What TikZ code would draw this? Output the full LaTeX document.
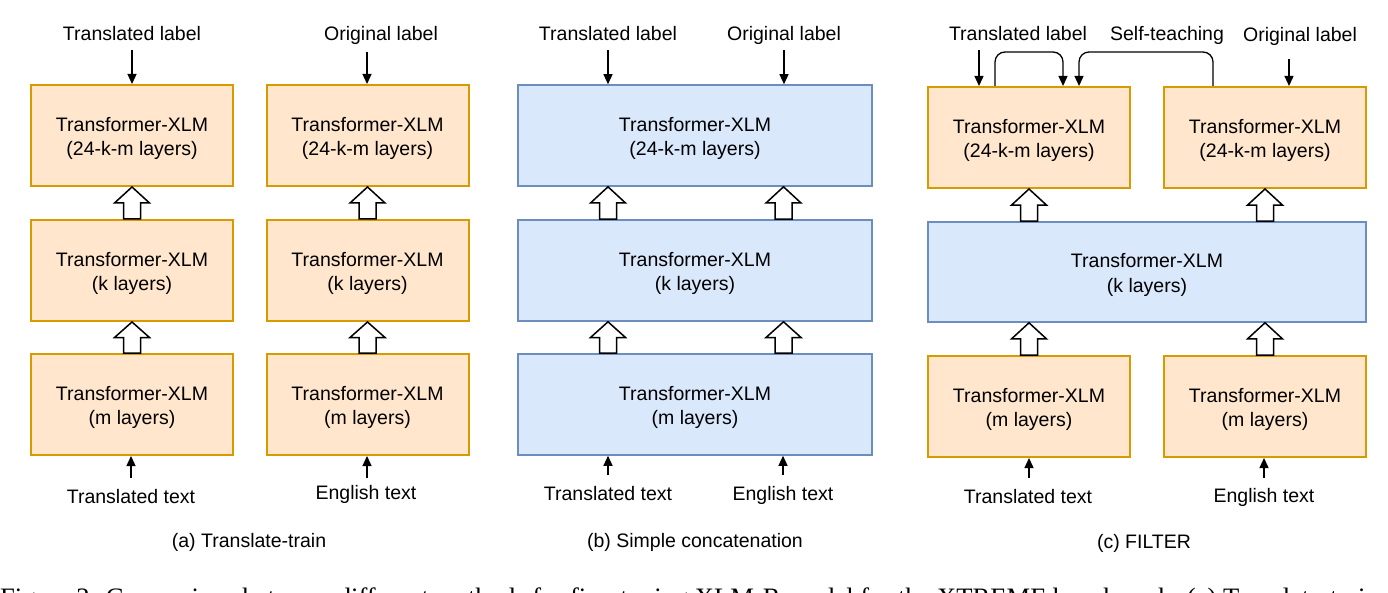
\documentclass[tikz,border=0pt]{standalone}
\usepackage{fontspec}
\setmainfont{Liberation Sans}
\newfontfamily\capfont{Liberation Serif}
\usetikzlibrary{calc,arrows.meta}
\definecolor{ofill}{HTML}{FFE6CC}
\definecolor{odraw}{HTML}{D79B00}
\definecolor{bfill}{HTML}{DAE8FC}
\definecolor{bdraw}{HTML}{6C8EBF}
\newcommand\twolines[2]{\rule{0pt}{20.5pt}#1\\#2}
\newcommand\hollowup[2]{%
  \coordinate (hb) at (#1);
  \coordinate (ht) at (#2);
  \draw[hollow] ($(hb)+(-8.5,0)$) -- ($(hb)!0.5!(ht)+(-8.5,0)$)
    -- ($(hb)!0.5!(ht)+(-17.5,0)$) -- (ht)
    -- ($(hb)!0.5!(ht)+(17.5,0)$) -- ($(hb)!0.5!(ht)+(8.5,0)$)
    -- ($(hb)+(8.5,0)$) -- cycle;}
\begin{document}
\begin{tikzpicture}[x=1pt,y=-1pt,
  txt/.style={font=\fontsize{19.5}{24.5}\selectfont, inner sep=0pt, align=center},
  lbl/.style={txt, anchor=base},
  obox/.style={txt, draw=odraw, fill=ofill, line width=2pt, minimum width=202pt, minimum height=101pt},
  bluebox/.style={txt, draw=bdraw, fill=bfill, line width=1.6pt, minimum width=354pt, minimum height=101pt},
  arr/.style={line width=1.3pt, -{Triangle[length=10pt,width=9pt]}},
  hollow/.style={draw=black, fill=white, line width=1.5pt, line join=miter},
  capt/.style={txt, anchor=base}]
\useasboundingbox (0,0) rectangle (1388,593);
\fill[white] (0,0) rectangle (1388,593);

% ---------- panel (a)
\node[obox] (a1) at (132,135.5) {\twolines{Transformer-XLM}{(24-k-m layers)}};
\node[obox] (a2) at (132,270.5) {\twolines{Transformer-XLM}{(k layers)}};
\node[obox] (a3) at (132,404.5) {\twolines{Transformer-XLM}{(m layers)}};
\node[obox] (a4) at (367.5,135.5) {\twolines{Transformer-XLM}{(24-k-m layers)}};
\node[obox] (a5) at (367.5,270.5) {\twolines{Transformer-XLM}{(k layers)}};
\node[obox] (a6) at (367.5,404.5) {\twolines{Transformer-XLM}{(m layers)}};
\node[lbl] (la1) at (132,41) {Translated label};
\node[lbl] (la2) at (381,41) {Original label};
\node[lbl] (ta1) at (131,503) {Translated text};
\node[lbl] (ta2) at (366,499) {English text};
\node[capt] (capa) at (249,547) {(a) Translate-train};
\coordinate (sa1) at (132,50);
\coordinate (sa2) at (367,52);
\coordinate (ea1) at (131,478);
\coordinate (ea2) at (367,478);
\draw[arr] (sa1) -- (sa1 |- a1.north);
\draw[arr] (sa2) -- (sa2 |- a4.north);
\draw[arr] (ea1) -- (ea1 |- a3.south);
\draw[arr] (ea2) -- (ea2 |- a6.south);
\hollowup{a2.north}{a1.south}
\hollowup{a3.north}{a2.south}
\hollowup{a5.north}{a4.south}
\hollowup{a6.north}{a5.south}

% ---------- panel (b)
\node[bluebox] (b1) at (695,135.5) {\twolines{Transformer-XLM}{(24-k-m layers)}};
\node[bluebox] (b2) at (695,270.5) {\twolines{Transformer-XLM}{(k layers)}};
\node[bluebox] (b3) at (695,404.5) {\twolines{Transformer-XLM}{(m layers)}};
\node[lbl] (lb1) at (608,41) {Translated label};
\node[lbl] (lb2) at (784,41) {Original label};
\node[lbl] (tb1) at (608,500) {Translated text};
\node[lbl] (tb2) at (783,500) {English text};
\node[capt] (capb) at (695,547) {(b) Simple concatenation};
\coordinate (xbL) at (608,0);
\coordinate (xbR) at (783.5,0);
\coordinate (sb1) at (608,50);
\coordinate (sb2) at (784,50);
\coordinate (eb1) at (608,475);
\coordinate (eb2) at (783,475);
\draw[arr] (sb1) -- (sb1 |- b1.north);
\draw[arr] (sb2) -- (sb2 |- b1.north);
\draw[arr] (eb1) -- (eb1 |- b3.south);
\draw[arr] (eb2) -- (eb2 |- b3.south);
\hollowup{b2.north -| xbL}{b1.south -| xbL}
\hollowup{b3.north -| xbL}{b2.south -| xbL}
\hollowup{b2.north -| xbR}{b1.south -| xbR}
\hollowup{b3.north -| xbR}{b2.south -| xbR}

% ---------- panel (c)
\node[obox] (c1) at (1029,137.5) {\twolines{Transformer-XLM}{(24-k-m layers)}};
\node[obox] (c2) at (1265,137.5) {\twolines{Transformer-XLM}{(24-k-m layers)}};
\node[bluebox, minimum width=438pt, minimum height=100pt] (cm) at (1147,272) {\twolines{Transformer-XLM}{(k layers)}};
\node[obox] (c3) at (1029,406.5) {\twolines{Transformer-XLM}{(m layers)}};
\node[obox] (c4) at (1265,406.5) {\twolines{Transformer-XLM}{(m layers)}};
\node[lbl] (lc1) at (1018,41) {Translated label};
\node[lbl] (lcs) at (1167,41) {Self-teaching};
\node[lbl] (lc2) at (1300,42) {Original label};
\node[lbl] (tc1) at (1028,503) {Translated text};
\node[lbl] (tc2) at (1264,502) {English text};
\node[capt] (capc) at (1144,548) {(c) FILTER};
\coordinate (sc1) at (979,50);
\coordinate (sc2) at (1289,59);
\coordinate (ec1) at (1029,478);
\coordinate (ec2) at (1264,478);
\draw[arr] (sc1) -- (sc1 |- c1.north);
\draw[arr] (sc2) -- (sc2 |- c2.north);
\draw[arr] (ec1) -- (ec1 |- c3.south);
\draw[arr] (ec2) -- (ec2 |- c4.south);
\coordinate (st1) at ($(c1.north west)+(68,0)$);
\coordinate (se1) at ($(c1.north west)+(136,0)$);
\coordinate (st2) at ($(c2.north west)+(50,0)$);
\coordinate (se2) at ($(c1.north west)+(152,0)$);
\draw[arr, rounded corners=10pt] (st1) -- ($(st1)+(0,-34)$) -- ($(se1)+(0,-34)$) -- (se1);
\draw[arr, rounded corners=10pt] (st2) -- ($(st2)+(0,-34)$) -- ($(se2)+(0,-34)$) -- (se2);
\hollowup{cm.north -| c1.south}{c1.south}
\hollowup{cm.north -| c2.south}{c2.south}
\hollowup{c3.north}{c3.north |- cm.south}
\hollowup{c4.north}{c4.north |- cm.south}

% ---------- figure caption (cut off by the page edge)
\begin{scope}
\clip (0,0) rectangle (1388,593);
\node[anchor=base west, inner sep=0pt, font=\capfont\fontsize{26.6}{30}\selectfont] (figcap) at (0,606.5)
  {Figure 2: Comparison between different methods for fine-tuning XLM-R model for the XTREME benchmark. (a) Translate-train};
\end{scope}
\end{tikzpicture}
\end{document}
